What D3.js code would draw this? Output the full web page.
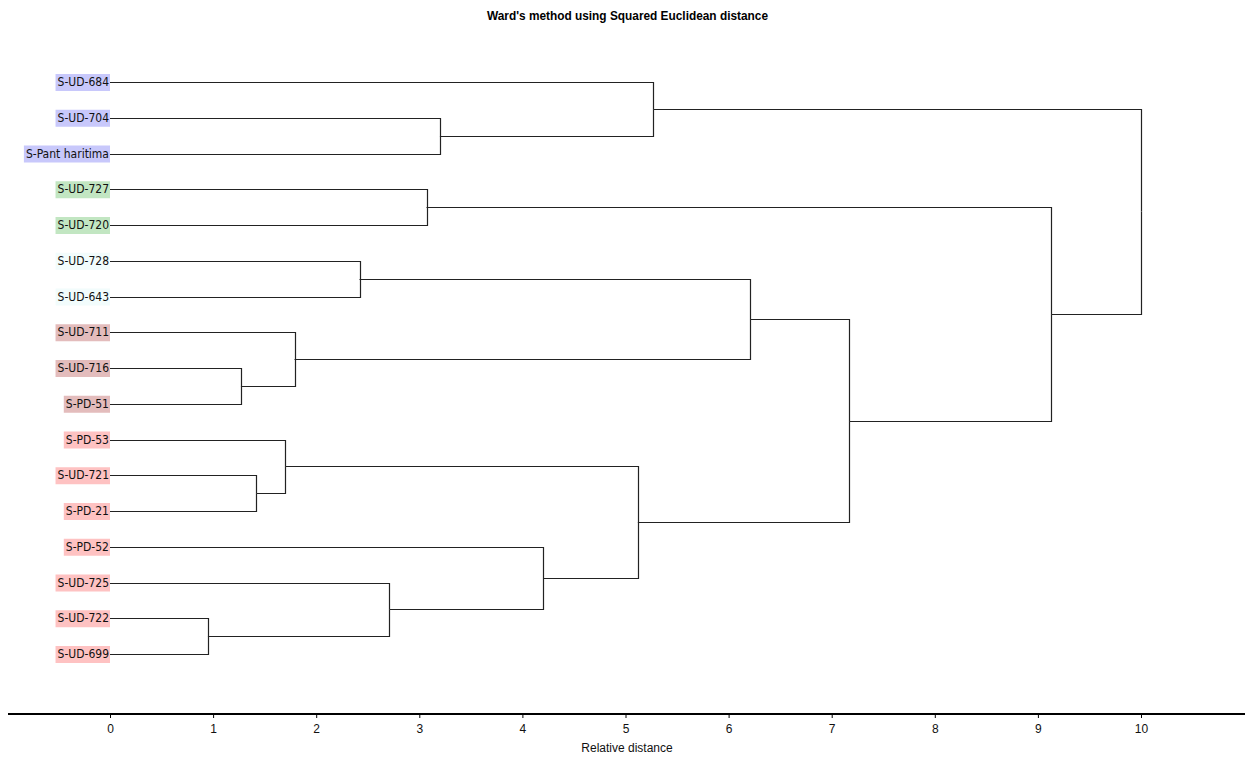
<!DOCTYPE html>
<html>
<head>
<meta charset="utf-8">
<script src="https://cdn.jsdelivr.net/npm/d3@7"></script>
<style>
  body { margin: 0; background: #fff; }
  svg { display: block; }
</style>
</head>
<body>
<script>
// leaves from top to bottom
const leaves = ['S-UD-684', 'S-UD-704', 'S-Pant haritima', 'S-UD-727', 'S-UD-720', 'S-UD-728', 'S-UD-643',
  'S-UD-711', 'S-UD-716', 'S-PD-51', 'S-PD-53', 'S-UD-721', 'S-PD-21', 'S-PD-52', 'S-UD-725', 'S-UD-722', 'S-UD-699'];
const groups = ['a', 'a', 'a', 'b', 'b', 'c', 'c', 'd', 'd', 'd', 'e', 'e', 'e', 'e', 'e', 'e', 'e'];
const groupColors = { a: '#c8c8fb', b: '#c2e6c2', c: '#f2fcfc', d: '#e3bcbc', e: '#fec2c2' };
// merges: [left, right, distance]; new cluster ids start at 17
const merges = [
  [15, 16, 0.95], [8, 9, 1.27], [11, 12, 1.42], [10, 19, 1.70], [7, 18, 1.79],
  [5, 6, 2.42], [14, 17, 2.71], [3, 4, 3.07], [1, 2, 3.20], [13, 23, 4.20],
  [20, 26, 5.12], [0, 25, 5.27], [22, 21, 6.21], [29, 27, 7.17], [24, 30, 9.13], [28, 31, 10.0]
];
const ticks = [0, 1, 2, 3, 4, 5, 6, 7, 8, 9, 10];

const width = 1249, height = 759;
const svg = d3.select('body').append('svg')
  .attr('width', width)
  .attr('height', height);

const x = d3.scaleLinear().domain([0, 10]).range([110, 1141]);
const y = d3.scalePoint().domain(leaves).range([82, 654]);

// node positions
const nodes = leaves.map(function(d) { return { x: 0, y: y(d) }; });
merges.forEach(function(m) {
  nodes.push({ x: m[2], y: (nodes[m[0]].y + nodes[m[1]].y) / 2, kids: [m[0], m[1]] });
});

// title
svg.append('text')
  .attr('x', 487).attr('y', 20)
  .attr('textLength', 281)
  .attr('lengthAdjust', 'spacingAndGlyphs')
  .style('font-family', '"Liberation Sans Narrow", "Arial Narrow", "Liberation Sans", sans-serif')
  .style('font-weight', 'bold')
  .style('font-size', '13px')
  .text("Ward's method using Squared Euclidean distance");

// links (elbow)
const g = svg.append('g').attr('fill', 'none').attr('stroke', '#222').attr('stroke-width', 1.2);
nodes.forEach(function(n) {
  if (!n.kids) return;
  const xp = Math.round(x(n.x)) + 0.5;
  n.kids.forEach(function(k) {
    const c = nodes[k];
    g.append('path')
      .attr('d', 'M' + x(c.x) + ',' + (Math.round(c.y) + 0.5) + 'H' + xp + 'V' + (Math.round(n.y) + 0.5));
  });
});

// leaf labels with background
const lab = svg.append('g').selectAll('g').data(leaves).enter().append('g');
lab.append('rect');
lab.append('text')
  .attr('x', 109).attr('y', function(d) { return y(d); })
  .attr('dy', '0.35em')
  .attr('text-anchor', 'end')
  .style('font-family', '"DejaVu Sans Condensed", "DejaVu Sans", sans-serif')
  .style('font-size', '12px')
  .attr('fill', '#111')
  .text(function(d) { return d; });
lab.each(function(d, i) {
  const bb = d3.select(this).select('text').node().getBBox();
  d3.select(this).select('rect')
    .attr('x', bb.x - 2).attr('y', y(d) - 8)
    .attr('width', 111 - bb.x + 1).attr('height', 17)
    .attr('fill', groupColors[groups[i]]);
});

// axis
const axisY = 714;
svg.append('line')
  .attr('x1', 8).attr('x2', 1245)
  .attr('y1', axisY).attr('y2', axisY)
  .attr('stroke', '#000').attr('stroke-width', 2);
const ax = svg.append('g').attr('transform', 'translate(0,' + axisY + ')')
  .call(d3.axisBottom(x).tickValues(ticks).tickSize(4).tickFormat(d3.format('d')));
ax.select('.domain').remove();
ax.selectAll('.tick line').attr('stroke', '#000');
ax.selectAll('.tick text')
  .attr('y', 10)
  .style('font-family', '"Liberation Sans Narrow", Arial, sans-serif')
  .style('font-size', '12px')
  .attr('fill', '#111');

svg.append('text')
  .attr('x', 627).attr('y', 752)
  .attr('text-anchor', 'middle')
  .style('font-family', '"Liberation Sans Narrow", Arial, sans-serif')
  .style('font-size', '12px')
  .attr('fill', '#111')
  .text('Relative distance');
</script>
</body>
</html>
